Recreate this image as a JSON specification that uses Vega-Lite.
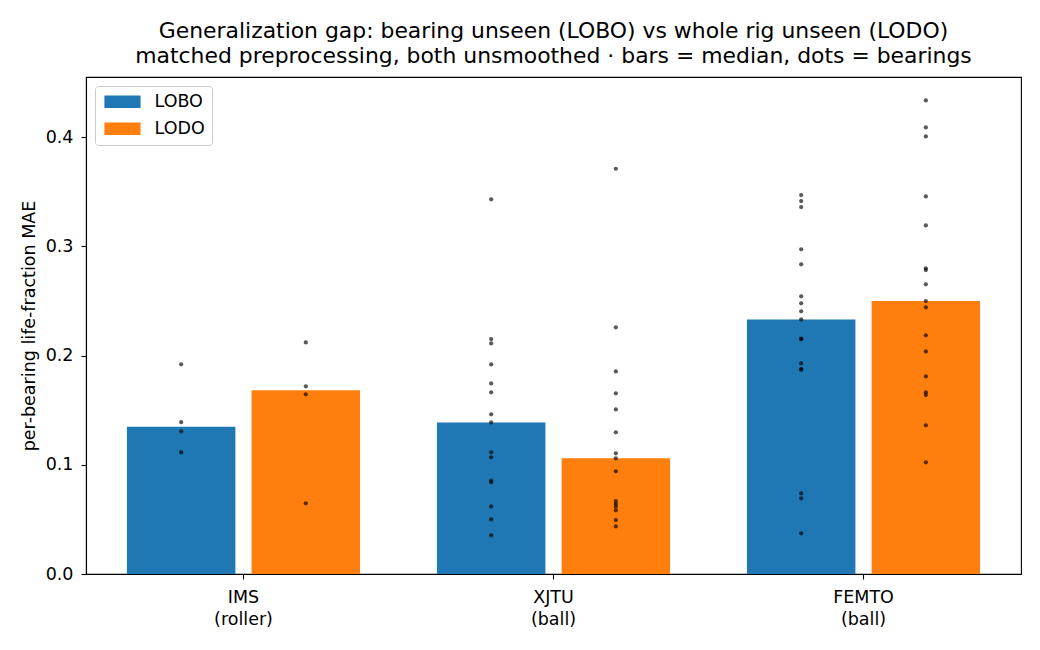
{
  "$schema": "https://vega.github.io/schema/vega-lite/v6.json",
  "width": 935,
  "height": 497,
  "autosize": {"type": "none"},
  "padding": {"left": 86, "top": 77, "right": 19, "bottom": 76},
  "title": {
    "text": ["Generalization gap: bearing unseen (LOBO) vs whole rig unseen (LODO)", "matched preprocessing, both unsmoothed · bars = median, dots = bearings"],
    "fontSize": 21.9,
    "fontWeight": "normal",
    "lineHeight": 25,
    "offset": 9,
    "color": "black"
  },
  "data": {
    "values": [
      {"rig": "IMS", "split": "LOBO", "mae": 0.192},
      {"rig": "IMS", "split": "LOBO", "mae": 0.139},
      {"rig": "IMS", "split": "LOBO", "mae": 0.1306},
      {"rig": "IMS", "split": "LOBO", "mae": 0.1114},
      {"rig": "IMS", "split": "LODO", "mae": 0.212},
      {"rig": "IMS", "split": "LODO", "mae": 0.1718},
      {"rig": "IMS", "split": "LODO", "mae": 0.1645},
      {"rig": "IMS", "split": "LODO", "mae": 0.0647},
      {"rig": "XJTU", "split": "LOBO", "mae": 0.343},
      {"rig": "XJTU", "split": "LOBO", "mae": 0.2151},
      {"rig": "XJTU", "split": "LOBO", "mae": 0.2111},
      {"rig": "XJTU", "split": "LOBO", "mae": 0.1919},
      {"rig": "XJTU", "split": "LOBO", "mae": 0.1745},
      {"rig": "XJTU", "split": "LOBO", "mae": 0.1663},
      {"rig": "XJTU", "split": "LOBO", "mae": 0.1462},
      {"rig": "XJTU", "split": "LOBO", "mae": 0.1388},
      {"rig": "XJTU", "split": "LOBO", "mae": 0.1114},
      {"rig": "XJTU", "split": "LOBO", "mae": 0.1068},
      {"rig": "XJTU", "split": "LOBO", "mae": 0.0854},
      {"rig": "XJTU", "split": "LOBO", "mae": 0.0839},
      {"rig": "XJTU", "split": "LOBO", "mae": 0.0619},
      {"rig": "XJTU", "split": "LOBO", "mae": 0.05},
      {"rig": "XJTU", "split": "LOBO", "mae": 0.0354},
      {"rig": "XJTU", "split": "LODO", "mae": 0.371},
      {"rig": "XJTU", "split": "LODO", "mae": 0.2258},
      {"rig": "XJTU", "split": "LODO", "mae": 0.1855},
      {"rig": "XJTU", "split": "LODO", "mae": 0.1654},
      {"rig": "XJTU", "split": "LODO", "mae": 0.1507},
      {"rig": "XJTU", "split": "LODO", "mae": 0.1297},
      {"rig": "XJTU", "split": "LODO", "mae": 0.1105},
      {"rig": "XJTU", "split": "LODO", "mae": 0.1059},
      {"rig": "XJTU", "split": "LODO", "mae": 0.094},
      {"rig": "XJTU", "split": "LODO", "mae": 0.0668},
      {"rig": "XJTU", "split": "LODO", "mae": 0.0641},
      {"rig": "XJTU", "split": "LODO", "mae": 0.0616},
      {"rig": "XJTU", "split": "LODO", "mae": 0.0583},
      {"rig": "XJTU", "split": "LODO", "mae": 0.0494},
      {"rig": "XJTU", "split": "LODO", "mae": 0.0436},
      {"rig": "FEMTO", "split": "LOBO", "mae": 0.3469},
      {"rig": "FEMTO", "split": "LOBO", "mae": 0.3414},
      {"rig": "FEMTO", "split": "LOBO", "mae": 0.3359},
      {"rig": "FEMTO", "split": "LOBO", "mae": 0.2972},
      {"rig": "FEMTO", "split": "LOBO", "mae": 0.2835},
      {"rig": "FEMTO", "split": "LOBO", "mae": 0.2542},
      {"rig": "FEMTO", "split": "LOBO", "mae": 0.2478},
      {"rig": "FEMTO", "split": "LOBO", "mae": 0.2405},
      {"rig": "FEMTO", "split": "LOBO", "mae": 0.2331},
      {"rig": "FEMTO", "split": "LOBO", "mae": 0.2154},
      {"rig": "FEMTO", "split": "LOBO", "mae": 0.215},
      {"rig": "FEMTO", "split": "LOBO", "mae": 0.1928},
      {"rig": "FEMTO", "split": "LOBO", "mae": 0.1876},
      {"rig": "FEMTO", "split": "LOBO", "mae": 0.187},
      {"rig": "FEMTO", "split": "LOBO", "mae": 0.0738},
      {"rig": "FEMTO", "split": "LOBO", "mae": 0.0693},
      {"rig": "FEMTO", "split": "LOBO", "mae": 0.0372},
      {"rig": "FEMTO", "split": "LODO", "mae": 0.4336},
      {"rig": "FEMTO", "split": "LODO", "mae": 0.4088},
      {"rig": "FEMTO", "split": "LODO", "mae": 0.4006},
      {"rig": "FEMTO", "split": "LODO", "mae": 0.3457},
      {"rig": "FEMTO", "split": "LODO", "mae": 0.3191},
      {"rig": "FEMTO", "split": "LODO", "mae": 0.2798},
      {"rig": "FEMTO", "split": "LODO", "mae": 0.2783},
      {"rig": "FEMTO", "split": "LODO", "mae": 0.2652},
      {"rig": "FEMTO", "split": "LODO", "mae": 0.2499},
      {"rig": "FEMTO", "split": "LODO", "mae": 0.2441},
      {"rig": "FEMTO", "split": "LODO", "mae": 0.2185},
      {"rig": "FEMTO", "split": "LODO", "mae": 0.2038},
      {"rig": "FEMTO", "split": "LODO", "mae": 0.1809},
      {"rig": "FEMTO", "split": "LODO", "mae": 0.1663},
      {"rig": "FEMTO", "split": "LODO", "mae": 0.1638},
      {"rig": "FEMTO", "split": "LODO", "mae": 0.1361},
      {"rig": "FEMTO", "split": "LODO", "mae": 0.1022}
    ]
  },
  "encoding": {
    "x": {
      "field": "rig",
      "type": "nominal",
      "sort": ["IMS", "XJTU", "FEMTO"],
      "scale": {"paddingInner": 0.248, "paddingOuter": 0.132},
      "axis": {
        "title": null,
        "labelAngle": 0,
        "labelLineHeight": 22,
        "labelPadding": 9,
        "labelExpr": "datum.value == 'IMS' ? ['IMS', '(roller)'] : [datum.value, '(ball)']"
      }
    },
    "xOffset": {
      "field": "split",
      "type": "nominal",
      "scale": {"paddingInner": 0.13, "paddingOuter": 0}
    }
  },
  "layer": [
    {
      "mark": {"type": "bar"},
      "encoding": {
        "y": {
          "aggregate": "median",
          "field": "mae",
          "type": "quantitative",
          "scale": {"domain": [0, 0.455], "nice": false, "zero": true},
          "axis": {
            "title": "per-bearing life-fraction MAE",
            "values": [0, 0.1, 0.2, 0.3, 0.4],
            "format": ".1f",
            "labelPadding": 8,
            "titlePadding": 7
          }
        },
        "color": {
          "field": "split",
          "type": "nominal",
          "scale": {"domain": ["LOBO", "LODO"], "range": ["#1f77b4", "#ff7f0e"]},
          "legend": {
            "title": null,
            "orient": "top-left",
            "offset": 9,
            "padding": 7,
            "rowPadding": 8,
            "symbolType": "M-1,-1H4.7V1H-1Z",
            "symbolSize": 161,
            "symbolStrokeWidth": 0,
            "symbolOpacity": 1,
            "labelOffset": 35,
            "labelFontSize": 17.5,
            "labelColor": "black",
            "strokeColor": "#cccccc",
            "fillColor": "white",
            "cornerRadius": 3
          }
        }
      }
    },
    {
      "mark": {"type": "point", "filled": true, "color": "black", "opacity": 0.65, "size": 18},
      "encoding": {
        "y": {"field": "mae", "type": "quantitative"}
      }
    }
  ],
  "config": {
    "font": "DejaVu Sans",
    "view": {"stroke": "black", "strokeWidth": 1.1},
    "axis": {
      "grid": false,
      "domainColor": "black",
      "domainWidth": 1.1,
      "tickColor": "black",
      "tickSize": 5,
      "tickWidth": 1.1,
      "labelColor": "black",
      "labelFontSize": 17.5,
      "titleFontSize": 17.5,
      "titleFontWeight": "normal",
      "titleColor": "black"
    }
  }
}
